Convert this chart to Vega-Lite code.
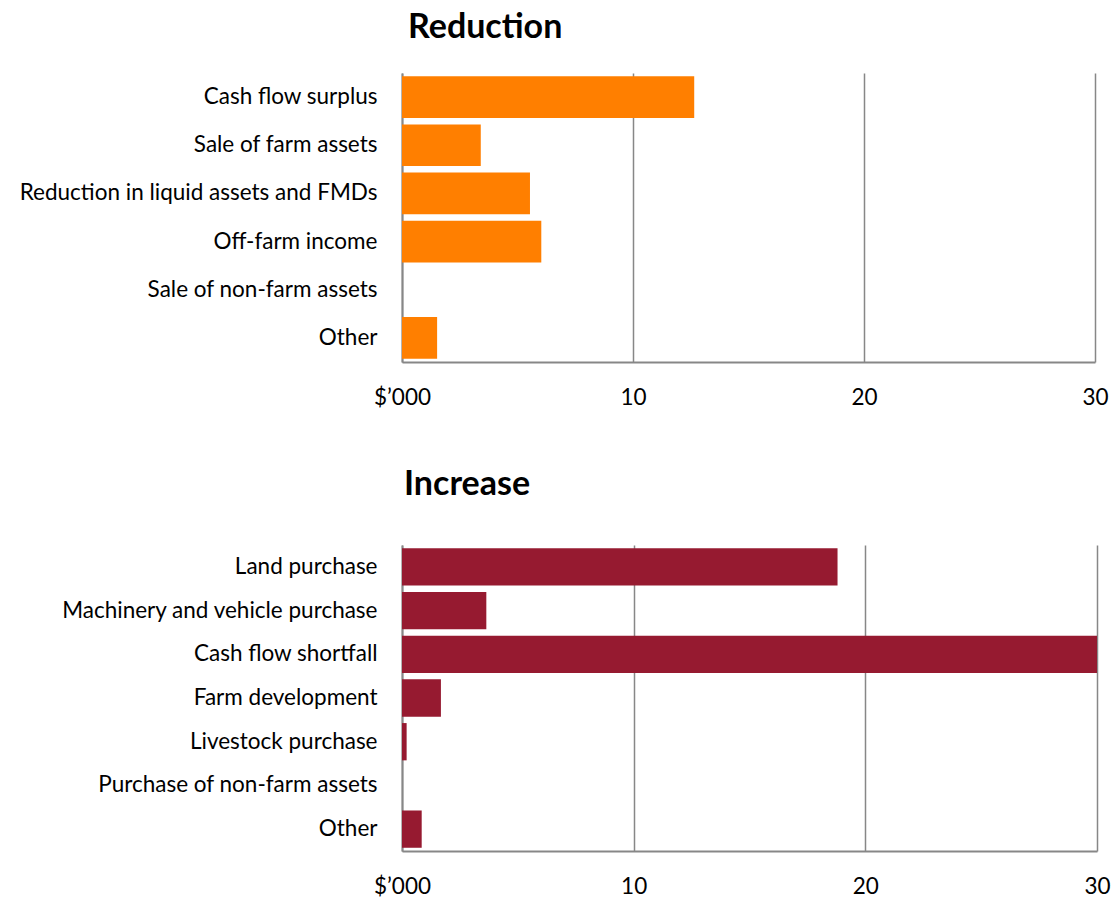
{
  "$schema": "https://vega.github.io/schema/vega-lite/v6.json",
  "background": "white",
  "padding": {"left": 13, "top": 11, "right": 16, "bottom": 3},
  "spacing": 59,
  "config": {
    "font": "Lato",
    "view": {"stroke": null},
    "axis": {
      "labelFont": "Lato",
      "labelFontSize": 22.5,
      "labelColor": "#000000",
      "labelLimit": 0,
      "labelFlush": false,
      "domainColor": "#878787",
      "domainWidth": 2,
      "gridColor": "#878787",
      "gridWidth": 1.5,
      "ticks": false,
      "title": null
    },
    "title": {"font": "Lato", "fontSize": 34, "fontWeight": "bold", "anchor": "start", "frame": "group", "color": "#000000"}
  },
  "datasets": {
    "reduction": [
      {"source": "Cash flow surplus", "value": 12.65},
      {"source": "Sale of farm assets", "value": 3.41},
      {"source": "Reduction in liquid assets  and FMDs", "value": 5.54},
      {"source": "Off-farm income", "value": 6.03},
      {"source": "Sale of non-farm assets", "value": 0},
      {"source": "Other", "value": 1.52}
    ],
    "increase": [
      {"use": "Land purchase", "value": 18.8},
      {"use": "Machinery and vehicle purchase", "value": 3.64},
      {"use": "Cash flow shortfall", "value": 30},
      {"use": "Farm development", "value": 1.68},
      {"use": "Livestock purchase", "value": 0.2},
      {"use": "Purchase of non-farm assets", "value": 0},
      {"use": "Other", "value": 0.85}
    ]
  },
  "vconcat": [
    {
      "title": {"text": "Reduction", "offset": 28, "dx": 6},
      "width": 693,
      "height": 289,
      "data": {"name": "reduction"},
      "mark": {"type": "bar", "color": "#FF7F00"},
      "encoding": {
        "y": {
          "field": "source",
          "type": "nominal",
          "sort": null,
          "scale": {"paddingInner": 0.135, "paddingOuter": 0.07},
          "axis": {"labelPadding": 25, "grid": false}
        },
        "x": {
          "field": "value",
          "type": "quantitative",
          "scale": {"domain": [0, 30], "nice": false},
          "axis": {
            "values": [0, 10, 20, 30],
            "grid": true,
            "labelPadding": 24,
            "labelExpr": "datum.value == 0 ? '$’000' : datum.label"
          }
        }
      }
    },
    {
      "title": {"text": "Increase", "offset": 43, "dx": 2},
      "width": 695,
      "height": 306,
      "data": {"name": "increase"},
      "mark": {"type": "bar", "color": "#961A30"},
      "encoding": {
        "y": {
          "field": "use",
          "type": "nominal",
          "sort": null,
          "scale": {"paddingInner": 0.147, "paddingOuter": 0.074},
          "axis": {"labelPadding": 25, "grid": false}
        },
        "x": {
          "field": "value",
          "type": "quantitative",
          "scale": {"domain": [0, 30], "nice": false},
          "axis": {
            "values": [0, 10, 20, 30],
            "grid": true,
            "labelPadding": 24,
            "labelExpr": "datum.value == 0 ? '$’000' : datum.label"
          }
        }
      }
    }
  ]
}
